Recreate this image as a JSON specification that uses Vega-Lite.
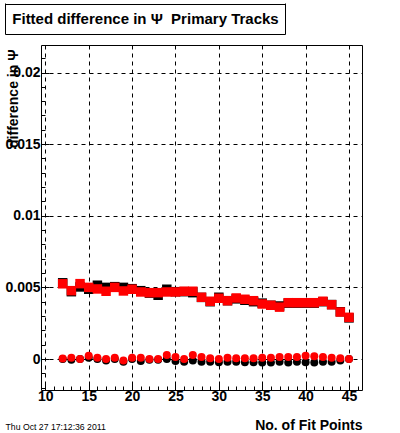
{
  "$schema": "https://vega.github.io/schema/vega-lite/v6.json",
  "background": "white",
  "padding": {"left": 4, "top": 2, "right": 36, "bottom": 3},
  "width": 321,
  "height": 345,
  "config": {
    "font": "Liberation Sans",
    "view": {"stroke": "black", "strokeWidth": 1}
  },
  "datasets": {
    "blackSq": [
      {"x": 12, "y": 0.00532}, {"x": 13, "y": 0.0047}, {"x": 14, "y": 0.00503}, {"x": 15, "y": 0.00487},
      {"x": 16, "y": 0.00515}, {"x": 17, "y": 0.0050}, {"x": 18, "y": 0.00505}, {"x": 19, "y": 0.0050},
      {"x": 20, "y": 0.00491}, {"x": 21, "y": 0.00477}, {"x": 22, "y": 0.0046}, {"x": 23, "y": 0.00445},
      {"x": 24, "y": 0.00487}, {"x": 25, "y": 0.0047}, {"x": 26, "y": 0.0047}, {"x": 27, "y": 0.00463},
      {"x": 28, "y": 0.0043}, {"x": 29, "y": 0.0040}, {"x": 30, "y": 0.00431}, {"x": 31, "y": 0.00407},
      {"x": 32, "y": 0.0042}, {"x": 33, "y": 0.0041}, {"x": 34, "y": 0.0040}, {"x": 35, "y": 0.0039},
      {"x": 36, "y": 0.00375}, {"x": 37, "y": 0.0037}, {"x": 38, "y": 0.0039}, {"x": 39, "y": 0.0039},
      {"x": 40, "y": 0.0039}, {"x": 41, "y": 0.0039}, {"x": 42, "y": 0.0040}, {"x": 43, "y": 0.0038},
      {"x": 44, "y": 0.0033}, {"x": 45, "y": 0.00287}
    ],
    "blackCi": [
      {"x": 12, "y": 0.0}, {"x": 13, "y": -0.00005}, {"x": 14, "y": 0.0}, {"x": 15, "y": 0.00009},
      {"x": 16, "y": 0.0}, {"x": 17, "y": -0.0001}, {"x": 18, "y": 0.0}, {"x": 19, "y": -0.00019},
      {"x": 20, "y": 0.0}, {"x": 21, "y": -0.00014}, {"x": 22, "y": -0.00005}, {"x": 23, "y": -0.00005},
      {"x": 24, "y": 0.0}, {"x": 25, "y": -0.00014}, {"x": 26, "y": -0.0002}, {"x": 27, "y": -0.0001},
      {"x": 28, "y": -0.0002}, {"x": 29, "y": -0.0002}, {"x": 30, "y": -0.00022}, {"x": 31, "y": -0.0002},
      {"x": 32, "y": -0.0002}, {"x": 33, "y": -0.00022}, {"x": 34, "y": -0.00022}, {"x": 35, "y": -0.00025},
      {"x": 36, "y": -0.00025}, {"x": 37, "y": -0.0002}, {"x": 38, "y": -0.00025}, {"x": 39, "y": -0.0002},
      {"x": 40, "y": -0.00022}, {"x": 41, "y": -0.00025}, {"x": 42, "y": -0.0002}, {"x": 43, "y": -0.0002},
      {"x": 44, "y": -0.0001}, {"x": 45, "y": 0.0}
    ],
    "redSq": [
      {"x": 12, "y": 0.00525}, {"x": 13, "y": 0.00477}, {"x": 14, "y": 0.00526}, {"x": 15, "y": 0.0050},
      {"x": 16, "y": 0.00489}, {"x": 17, "y": 0.00473}, {"x": 18, "y": 0.0050}, {"x": 19, "y": 0.00475},
      {"x": 20, "y": 0.00487}, {"x": 21, "y": 0.00468}, {"x": 22, "y": 0.00463}, {"x": 23, "y": 0.00463},
      {"x": 24, "y": 0.00468}, {"x": 25, "y": 0.00468}, {"x": 26, "y": 0.00473}, {"x": 27, "y": 0.00473},
      {"x": 28, "y": 0.00431}, {"x": 29, "y": 0.00403}, {"x": 30, "y": 0.00424}, {"x": 31, "y": 0.00407},
      {"x": 32, "y": 0.00426}, {"x": 33, "y": 0.00417}, {"x": 34, "y": 0.00407}, {"x": 35, "y": 0.00384},
      {"x": 36, "y": 0.00375}, {"x": 37, "y": 0.00362}, {"x": 38, "y": 0.00393}, {"x": 39, "y": 0.00393},
      {"x": 40, "y": 0.00393}, {"x": 41, "y": 0.00393}, {"x": 42, "y": 0.00403}, {"x": 43, "y": 0.00379},
      {"x": 44, "y": 0.00328}, {"x": 45, "y": 0.00291}
    ],
    "redCi": [
      {"x": 12, "y": 0.00003}, {"x": 13, "y": 0.00009}, {"x": 14, "y": 0.0}, {"x": 15, "y": 0.00023},
      {"x": 16, "y": 0.00009}, {"x": 17, "y": 0.0}, {"x": 18, "y": 0.00009}, {"x": 19, "y": -0.0001},
      {"x": 20, "y": 0.00009}, {"x": 21, "y": 0.00009}, {"x": 22, "y": 0.0}, {"x": 23, "y": 0.0},
      {"x": 24, "y": 0.00028}, {"x": 25, "y": 0.00014}, {"x": 26, "y": 0.0}, {"x": 27, "y": 0.00028},
      {"x": 28, "y": 0.00014}, {"x": 29, "y": 0.00005}, {"x": 30, "y": 0.0}, {"x": 31, "y": 0.00009},
      {"x": 32, "y": 0.00005}, {"x": 33, "y": 0.00005}, {"x": 34, "y": 0.00005}, {"x": 35, "y": 0.00009},
      {"x": 36, "y": 0.00009}, {"x": 37, "y": 0.00014}, {"x": 38, "y": 0.00014}, {"x": 39, "y": 0.00014},
      {"x": 40, "y": 0.00023}, {"x": 41, "y": 0.0002}, {"x": 42, "y": 0.00014}, {"x": 43, "y": 0.00009},
      {"x": 44, "y": 0.00005}, {"x": 45, "y": 0.0}
    ]
  },
  "resolve": {"axis": {"x": "independent", "y": "independent"}},
  "layer": [
    {
      "data": {"name": "blackSq"},
      "mark": {"type": "square", "filled": true, "size": 90, "color": "black", "opacity": 1},
      "encoding": {
        "x": {"field": "x", "type": "quantitative", "scale": {"domain": [9.5, 46.5], "nice": false, "zero": false},
          "axis": {"orient": "bottom", "values": [10, 15, 20, 25, 30, 35, 40, 45], "format": "d",
            "grid": true, "gridColor": "black", "gridDash": [4, 4], "gridOpacity": 1, "gridWidth": 1,
            "domain": false, "ticks": true, "tickSize": -8, "tickColor": "black", "tickWidth": 1,
            "labelFontSize": 14, "labelFontWeight": "bold", "labelColor": "black", "labelPadding": 7,
            "labelFlush": false, "labelOverlap": false,
            "title": "No. of Fit Points", "titleFontSize": 14, "titleFontWeight": "bold", "titleColor": "black",
            "titleAlign": "right", "titleAnchor": "end", "titleX": 321, "titleY": 39, "titleBaseline": "alphabetic"}},
        "y": {"field": "y", "type": "quantitative", "scale": {"domain": [-0.002164, 0.02192], "nice": false, "zero": false},
          "axis": {"orient": "left", "values": [0, 0.005, 0.01, 0.015, 0.02], "format": "~g",
            "grid": true, "gridColor": "black", "gridDash": [4, 4], "gridOpacity": 1, "gridWidth": 1,
            "domain": false, "ticks": true, "tickSize": -8, "tickColor": "black", "tickWidth": 1,
            "labelFontSize": 14, "labelFontWeight": "bold", "labelColor": "black", "labelPadding": 9,
            "labelFlush": false, "labelOverlap": false,
            "title": "difference in Ψ", "titleFontSize": 14, "titleFontWeight": "bold", "titleColor": "black",
            "titleAngle": 270, "titleAlign": "right", "titleBaseline": "alphabetic", "titleX": -24, "titleY": 4}}
      }
    },
    {
      "data": {"name": "blackCi"},
      "mark": {"type": "circle", "size": 64, "color": "black", "opacity": 1},
      "encoding": {
        "x": {"field": "x", "type": "quantitative", "scale": {"domain": [9.5, 46.5], "nice": false, "zero": false},
          "axis": {"orient": "top", "offset": 11, "values": [9.52, 41.774], "tickOffset": -36,
            "grid": false, "domain": false, "labels": false, "ticks": true, "tickSize": 31, "tickColor": "black", "tickWidth": 1,
            "title": "Fitted difference in Ψ\u00a0\u00a0Primary Tracks", "titleFontSize": 15, "titleFontWeight": "bold", "titleColor": "black",
            "titleAngle": 0, "titleAlign": "center", "titleBaseline": "middle", "titleX": 104, "titleY": -15.5}},
        "y": {"field": "y", "type": "quantitative", "scale": {"domain": [-0.002164, 0.02192], "nice": false, "zero": false},
          "axis": {"orient": "left", "offset": 36, "values": [0.021885, 0.019756], "tickOffset": -42,
            "grid": false, "domain": false, "labels": false, "ticks": true, "tickSize": -280, "tickColor": "black", "tickWidth": 1,
            "title": null}}
      }
    },
    {
      "data": {"name": "redSq"},
      "mark": {"type": "square", "filled": true, "size": 90, "color": "#ff0000", "opacity": 1},
      "encoding": {
        "x": {"field": "x", "type": "quantitative", "scale": {"domain": [9.5, 46.5], "nice": false, "zero": false},
          "axis": {"orient": "bottom", "values": [10, 11, 12, 13, 14, 15, 16, 17, 18, 19, 20, 21, 22, 23, 24, 25, 26, 27, 28, 29, 30, 31, 32, 33, 34, 35, 36, 37, 38, 39, 40, 41, 42, 43, 44, 45, 46],
            "grid": false, "domain": false, "labels": false, "ticks": true, "tickSize": -4, "tickColor": "black", "tickWidth": 1, "title": null}},
        "y": {"field": "y", "type": "quantitative", "scale": {"domain": [-0.002164, 0.02192], "nice": false, "zero": false},
          "axis": {"orient": "left", "values": [-0.002, -0.001, 0, 0.001, 0.002, 0.003, 0.004, 0.005, 0.006, 0.007, 0.008, 0.009, 0.01, 0.011, 0.012, 0.013, 0.014, 0.015, 0.016, 0.017, 0.018, 0.019, 0.02, 0.021],
            "grid": false, "domain": false, "labels": false, "ticks": true, "tickSize": -4, "tickColor": "black", "tickWidth": 1,
            "title": "Thu Oct 27 17:12:36 2011", "titleAngle": 0, "titleX": -36, "titleY": 384, "titleAlign": "left",
            "titleBaseline": "alphabetic", "titleFontSize": 8.7, "titleFontWeight": "normal", "titleColor": "black"}}
      }
    },
    {
      "data": {"name": "redCi"},
      "mark": {"type": "circle", "size": 64, "color": "#ff0000", "opacity": 1},
      "encoding": {
        "x": {"field": "x", "type": "quantitative", "scale": {"domain": [9.5, 46.5], "nice": false, "zero": false}, "axis": null},
        "y": {"field": "y", "type": "quantitative", "scale": {"domain": [-0.002164, 0.02192], "nice": false, "zero": false}, "axis": null}
      }
    }
  ]
}
